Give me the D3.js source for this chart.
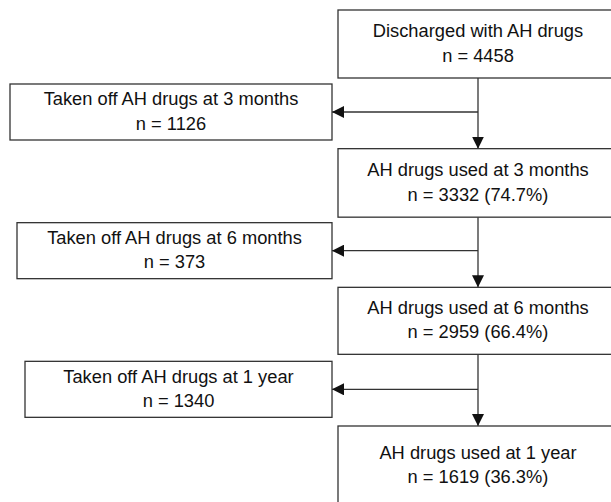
<!DOCTYPE html>
<html>
<head>
<meta charset="utf-8">
<script src="https://cdn.jsdelivr.net/npm/d3@7/dist/d3.min.js"></script>
<style>
  html, body { margin: 0; padding: 0; background: #fff; }
  svg { display: block; }
  text { font-family: "Liberation Sans", Arial, sans-serif; fill: #111; }
</style>
</head>
<body>
<svg id="chart" width="611" height="502"></svg>
<script>
// ---- data ----
const mainLabels = ["Discharged with AH drugs", "AH drugs used at 3 months", "AH drugs used at 6 months", "AH drugs used at 1 year"];
const mainCounts = [4458, 3332, 2959, 1619];
const mainPct = [null, "74.7%", "66.4%", "36.3%"];
const offLabels = ["Taken off AH drugs at 3 months", "Taken off AH drugs at 6 months", "Taken off AH drugs at 1 year"];
const offCounts = [1126, 373, 1340];

// ---- layout ----
const W = 611, H = 502;
const svg = d3.select("#chart");
const stepY = d3.scaleLinear().domain([0, 3]).range([10, 426]);
const mainX0 = 338, mainX1 = 618, centerX = (mainX0 + mainX1) / 2;
const mainH = [68, 68.5, 67, 79];
const offX0 = [10, 17, 25], offX1 = 332, offOffset = 74, offH = 56;
const fontSize = 18.3, lineGap = 24.2;
const stroke = "#333", sw = 1.3;

const defs = svg.append("defs");
function arrowMarker(id) {
  defs.append("marker")
    .attr("id", id)
    .attr("viewBox", "0 0 12 12")
    .attr("refX", 12).attr("refY", 6)
    .attr("markerWidth", 12).attr("markerHeight", 12)
    .attr("markerUnits", "userSpaceOnUse")
    .attr("orient", "auto")
    .append("path").attr("d", "M0,0 L12,6 L0,12 Z").attr("fill", "#111");
}
arrowMarker("arr");

// connectors (drawn first)
const g = svg.append("g");
for (let i = 0; i < mainLabels.length - 1; i++) {
  const y0 = stepY(i) + mainH[i];
  const y1 = stepY(i + 1);
  g.append("line")
    .attr("x1", centerX).attr("x2", centerX)
    .attr("y1", y0).attr("y2", y1)
    .attr("stroke", stroke).attr("stroke-width", sw)
    .attr("marker-end", "url(#arr)");
  const ly = stepY(i) + offOffset + offH / 2;
  g.append("line")
    .attr("x1", centerX).attr("x2", offX1)
    .attr("y1", ly).attr("y2", ly)
    .attr("stroke", stroke).attr("stroke-width", sw)
    .attr("marker-end", "url(#arr)");
}

function twoLine(cx, cy, l1, l2) {
  const mid = cy + 5.5;
  svg.append("text").attr("x", cx).attr("y", mid - lineGap / 2)
    .attr("text-anchor", "middle").attr("font-size", fontSize).text(l1);
  svg.append("text").attr("x", cx).attr("y", mid + lineGap / 2)
    .attr("text-anchor", "middle").attr("font-size", fontSize).text(l2);
}

// main boxes
mainLabels.forEach((lab, i) => {
  const y = stepY(i);
  svg.append("rect")
    .attr("x", mainX0).attr("y", y)
    .attr("width", mainX1 - mainX0).attr("height", mainH[i])
    .attr("fill", "#fff").attr("stroke", stroke).attr("stroke-width", sw);
  const l2 = "n = " + mainCounts[i] + (mainPct[i] ? " (" + mainPct[i] + ")" : "");
  twoLine(centerX, y + mainH[i] / 2, lab, l2);
});

// side boxes
offLabels.forEach((lab, i) => {
  const y = stepY(i) + offOffset;
  svg.append("rect")
    .attr("x", offX0[i]).attr("y", y)
    .attr("width", offX1 - offX0[i]).attr("height", offH)
    .attr("fill", "#fff").attr("stroke", stroke).attr("stroke-width", sw);
  twoLine((offX0[i] + offX1) / 2, y + offH / 2, lab, "n = " + offCounts[i]);
});
</script>
</body>
</html>
